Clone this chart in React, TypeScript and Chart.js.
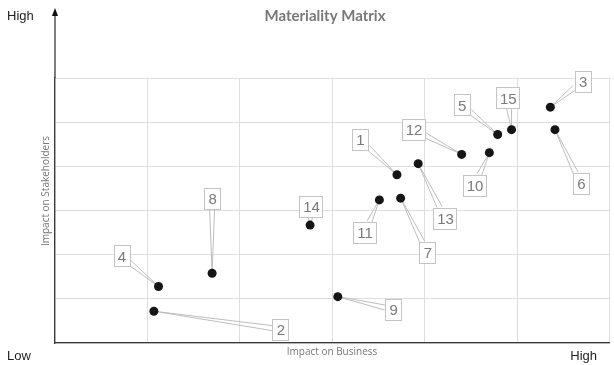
import React, { useEffect, useRef } from "react";
import { Chart, registerables } from "chart.js";

Chart.register(...registerables);

const topicIds = ["1", "2", "3", "4", "5", "6", "7", "8", "9", "10", "11", "12", "13", "14", "15"];
const impactOnBusiness = [3.70, 1.07, 5.36, 1.12, 4.79, 5.41, 3.74, 1.70, 3.06, 4.70, 3.51, 4.40, 3.93, 2.76, 4.94];
const impactOnStakeholders = [3.81, 0.72, 5.34, 1.28, 4.72, 4.83, 3.28, 1.58, 1.05, 4.31, 3.24, 4.27, 4.06, 2.67, 4.83];
const labelBusiness = [3.30, 2.44, 5.71, 0.72, 4.40, 5.69, 4.03, 1.70, 3.66, 4.54, 3.35, 3.88, 4.22, 2.77, 4.90];
const labelStakeholders = [4.60, 0.31, 5.93, 1.97, 5.39, 3.61, 2.05, 3.28, 0.76, 3.57, 2.50, 4.84, 2.83, 3.10, 5.55];

const titleText = "Materiality Matrix";
const xAxisTitle = "Impact on Business";
const yAxisTitle = "Impact on Stakeholders";
const lowText = "Low";
const highText = "High";

const calloutPlugin = {
  id: "callouts",
  beforeDatasetsDraw(chart: any) {
    const ctx = chart.ctx;
    const xs = chart.scales.x;
    const ys = chart.scales.y;
    ctx.save();
    ctx.font = "15px 'Liberation Sans', Arial, sans-serif";
    topicIds.forEach((id, i) => {
      const px = xs.getPixelForValue(impactOnBusiness[i]);
      const py = ys.getPixelForValue(impactOnStakeholders[i]);
      const cx = xs.getPixelForValue(labelBusiness[i]);
      const cy = ys.getPixelForValue(labelStakeholders[i]);
      const w = id.length > 1 ? 23 : 16;
      const h = 21;
      const dx = px - cx;
      const dy = py - cy;
      const len = Math.hypot(dx, dy) || 1;
      const t = Math.min(
        Math.abs(dx) > 0 ? w / 2 / Math.abs(dx) : Infinity,
        Math.abs(dy) > 0 ? h / 2 / Math.abs(dy) : Infinity
      );
      const ex = cx + dx * t;
      const ey = cy + dy * t;
      const nx = (-dy / len) * 2.5;
      const ny = (dx / len) * 2.5;
      ctx.strokeStyle = "#bdbdbd";
      ctx.lineWidth = 1;
      ctx.beginPath();
      ctx.moveTo(ex + nx, ey + ny);
      ctx.lineTo(px, py);
      ctx.lineTo(ex - nx, ey - ny);
      ctx.stroke();
      ctx.fillStyle = "#ffffff";
      ctx.fillRect(cx - w / 2, cy - h / 2, w, h);
      ctx.strokeStyle = "#c4c4c4";
      ctx.strokeRect(Math.round(cx - w / 2) + 0.5, Math.round(cy - h / 2) + 0.5, w, h);
      ctx.fillStyle = "#7a7a7a";
      ctx.textAlign = "center";
      ctx.textBaseline = "middle";
      ctx.fillText(id, cx + 0.5, cy + 1.5);
    });
    ctx.restore();
  },
};

const decorPlugin = {
  id: "decor",
  afterDraw(chart: any) {
    const ctx = chart.ctx;
    const a = chart.chartArea;
    ctx.save();
    ctx.strokeStyle = "#3a3a3a";
    ctx.lineWidth = 1.3;
    ctx.beginPath();
    ctx.moveTo(a.left, a.top);
    ctx.lineTo(a.left, 14);
    ctx.stroke();
    ctx.fillStyle = "#111";
    ctx.beginPath();
    ctx.moveTo(a.left, 8);
    ctx.lineTo(a.left - 3, 16);
    ctx.lineTo(a.left + 3, 16);
    ctx.closePath();
    ctx.fill();

    ctx.fillStyle = "#787878";
    ctx.font = "bold 15px Lato, 'Open Sans', sans-serif";
    ctx.textAlign = "center";
    ctx.textBaseline = "middle";
    ctx.fillText(titleText, 325, 16);

    ctx.fillStyle = "#1e1e1e";
    ctx.font = "13px 'Liberation Sans', Arial, sans-serif";
    ctx.textAlign = "left";
    ctx.textBaseline = "alphabetic";
    ctx.fillText(highText, 7, 20);
    ctx.fillText(lowText, 7, 360);
    ctx.textAlign = "right";
    ctx.fillText(highText, 597, 360);

    ctx.fillStyle = "#777";
    ctx.font = "10px 'Open Sans', sans-serif";
    ctx.textAlign = "center";
    ctx.textBaseline = "middle";
    ctx.fillText(xAxisTitle, 332, 352);
    ctx.translate(46, 191);
    ctx.rotate(-Math.PI / 2);
    ctx.fillText(yAxisTitle, 0, 0);
    ctx.restore();
  },
};

export default function App() {
  const ref = useRef<HTMLCanvasElement>(null);
  useEffect(() => {
    if (!ref.current) return;
    const chart = new Chart(ref.current, {
      type: "scatter",
      data: {
        datasets: [
          {
            label: "Topics",
            data: impactOnBusiness.map((x, i) => ({ x, y: impactOnStakeholders[i] })),
            backgroundColor: "#151515",
            borderColor: "#151515",
            borderWidth: 0,
            pointRadius: 4.5,
            pointHoverRadius: 4.5,
          },
        ],
      },
      options: {
        responsive: false,
        animation: false,
        layout: { padding: { top: 78, left: 55, right: 0, bottom: 22 } },
        plugins: { legend: { display: false }, tooltip: { enabled: false }, title: { display: false } },
        scales: {
          x: {
            type: "linear",
            min: 0,
            max: 6,
            ticks: { display: false, stepSize: 1 },
            grid: { color: "#dedede", lineWidth: 1, drawTicks: false },
            border: { color: "#3a3a3a", width: 1.3 },
          },
          y: {
            type: "linear",
            min: 0,
            max: 6,
            ticks: { display: false, stepSize: 1 },
            grid: { color: "#dedede", lineWidth: 1, drawTicks: false },
            border: { color: "#3a3a3a", width: 1.3 },
          },
        },
      },
      plugins: [calloutPlugin, decorPlugin],
    });
    return () => chart.destroy();
  }, []);
  return (
    <div style={{ position: "absolute", left: 0, top: 0, width: 614, height: 365, background: "#fff" }}>
      <canvas ref={ref} width={614} height={365} style={{ display: "block" }} />
    </div>
  );
}
